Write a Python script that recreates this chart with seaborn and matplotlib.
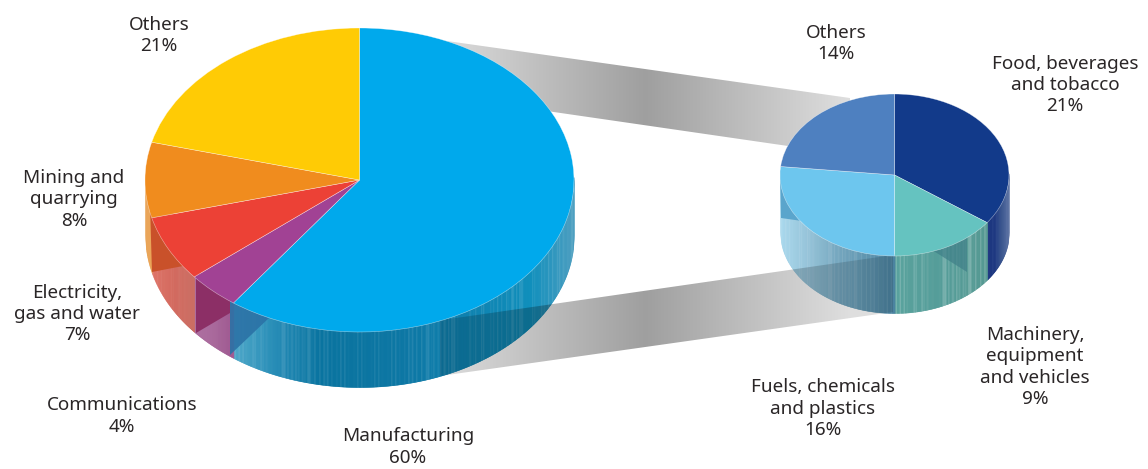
import numpy as np
import matplotlib
matplotlib.use("Agg")
import matplotlib.pyplot as plt
from matplotlib.patches import Polygon
import seaborn as sns

sns.set_theme(style="white")
plt.rcParams['font.family'] = ['Noto Sans', 'DejaVu Sans']

# ---- data ----
sector_labels = ["Manufacturing\n60%", "Communications\n4%", "Electricity,\ngas and water\n7%",
                 "Mining and\nquarrying\n8%", "Others\n21%"]
sector_values = [60, 4, 7, 8, 21]
sector_colors = ["#00A9EC", "#A14294", "#EC4136", "#F08C1E", "#FFCB05"]
manuf_labels = ["Food, beverages\nand tobacco\n21%", "Machinery,\nequipment\nand vehicles\n9%",
                "Fuels, chemicals\nand plastics\n16%", "Others\n14%"]
manuf_values = [21, 9, 16, 14]
manuf_colors = ["#123A8A", "#65C3C0", "#6DC6EE", "#4E80C0"]

W, H = 1148, 469
TEXT = "#2a2627"

sector_sides = [
    ["#4AA6C8", "#1F88B4", "#006F9D", "#006F9D", "#0070A0", "#0076A6", "#007FB0", "#0088B8", "#4098BC"],
    ["#A8669A", "#A05A92"], ["#DE6E62", "#C9675C"], ["#E9A04F", "#E9A04F"], ["#FFCB05", "#FFCB05"]]
sector_stripes = [0.13, 0.0, 0.05, 0.0, 0.0]
manuf_sides = [["#0F2A78", "#102C7A", "#2F4C88", "#4F679C"],
               ["#5AA39E", "#4F9A96", "#4B938C"],
               ["#A4D6EC", "#8FBFD6", "#6FA3BC", "#5B93AE", "#4A82A0"],
               ["#4E80C0", "#4E80C0"]]
manuf_stripes = [0.04, 0.25, 0.10, 0.0]

fig = plt.figure(figsize=(W / 100, H / 100), dpi=100, facecolor="white")


def pie_axes(cx, cy, rx, ry, depth, z):
    """Axes in which the unit circle shows as the pie's ellipse."""
    xl, yt = 1.1, 1.1
    yb = 1 + depth / ry + 0.1
    rect = [(cx - xl * rx) / W, 1 - (cy + yb * ry) / H, 2 * xl * rx / W, (yt + yb) * ry / H]
    ax = fig.add_axes(rect, zorder=z, facecolor="none")
    ax.set_xlim(-xl, xl)
    ax.set_ylim(-yb, yt)
    ax.axis("off")
    return ax


def draw_pie(cx, cy, rx, ry, depth, values, colors, sides, stripes, shadows):
    side = pie_axes(cx, cy, rx, ry, depth, 1)
    top = pie_axes(cx, cy, rx, ry, depth, 3)
    d = depth / ry
    shares = np.cumsum([0] + list(values)) / sum(values)
    for i, stops in enumerate(sides):
        # slice runs clockwise from 12 o'clock; theta in degrees
        a0, a1 = 90 - 360 * shares[i + 1], 90 - 360 * shares[i]
        th = np.linspace(a0, a1, 1500)
        th = th[np.sin(np.radians(th)) <= 0]
        if th.size < 2:
            continue
        xs = np.cos(np.radians(th))
        lo, hi = xs.min(), xs.max()
        n = max(2, int(np.ceil((hi - lo) * rx)))
        pal = sns.blend_palette(stops, n)
        edges = np.linspace(lo, hi, n + 1)
        for k in range(n):
            xx = np.array([edges[k], edges[k + 1]])
            yy = -np.sqrt(np.clip(1 - xx ** 2, 0, 1))
            mix = stripes[i] * max(0.0, np.sin(k * k * 0.37 + k)) ** 3
            c = np.array(pal[k]) * (1 - mix) + mix
            side.fill_between(xx, yy + 0.02, yy - d, color=c, lw=0.35)
    for pts, col, alpha in shadows:
        pts = np.array(pts, float)
        u = np.c_[(pts[:, 0] - cx) / rx, (cy - pts[:, 1]) / ry]
        side.add_patch(Polygon(u, closed=True, fc=col, ec="none", alpha=alpha))
    top.pie(values, colors=colors, startangle=90, counterclock=False, radius=1,
            wedgeprops=dict(linewidth=0.4, edgecolor=(1, 1, 1, 0.55)))
    top.set_aspect("auto")
    top.set_xlim(side.get_xlim())
    top.set_ylim(side.get_ylim())
    return side, top


draw_pie(359.5, 180, 214.5, 152, 55, sector_values, sector_colors, sector_sides, sector_stripes, [
    ([(150, 205), (152, 272), (183, 266), (197, 277), (190, 220)], "#C9512A", 1),
    ([(196, 270), (196, 333), (230, 313), (230, 295)], "#8C2F66", 1),
    ([(230, 295), (230, 355), (270, 317), (270, 310)], "#2B72A6", 0.9),
])
draw_pie(894.5, 175, 114.5, 81, 57, manuf_values, manuf_colors, manuf_sides, manuf_stripes, [
    ([(780, 170), (781, 218), (802, 221), (802, 190)], "#5AA5CC", 1),
    ([(932, 250), (967, 272), (967, 232)], "#3F7F88", 0.7),
])

# ---- overlay: connector bands and labels ----
over = fig.add_axes([0, 0, 1, 1], zorder=2, facecolor="none")
over.set_xlim(0, W)
over.set_ylim(H, 0)
over.axis("off")

grad_x = np.arange(W)
alpha = np.interp(grad_x, [450, 645, 850], [0.15, 0.38, 0.13])
rgba = np.zeros((1, W, 4))
rgba[0, :, 3] = alpha
bands = [[(440, 40), (850, 98), (850, 155), (540, 110)],
         [(440, 376), (893, 312), (893, 255), (463, 317), (440, 320)]]
for b in bands:
    im = over.imshow(rgba, extent=(0, W, H, 0), aspect="auto", interpolation="bilinear", zorder=1)
    im.set_clip_path(Polygon(b, closed=True, transform=over.transData))
over.set_xlim(0, W)
over.set_ylim(H, 0)

sector_pos = [(408, 447), (122, 416), (77, 314), (74, 199.5), (159, 35.5)]
manuf_pos = [(1065, 85), (1035, 367), (823, 408.5), (836, 43.5)]
for lab, (x, y) in zip(sector_labels + manuf_labels, sector_pos + manuf_pos):
    over.text(x, y, lab, ha="center", va="center", multialignment="center",
              fontsize=13.6, color=TEXT, linespacing=1.23, zorder=5)

fig.savefig("out.png", dpi=100, facecolor="white")
